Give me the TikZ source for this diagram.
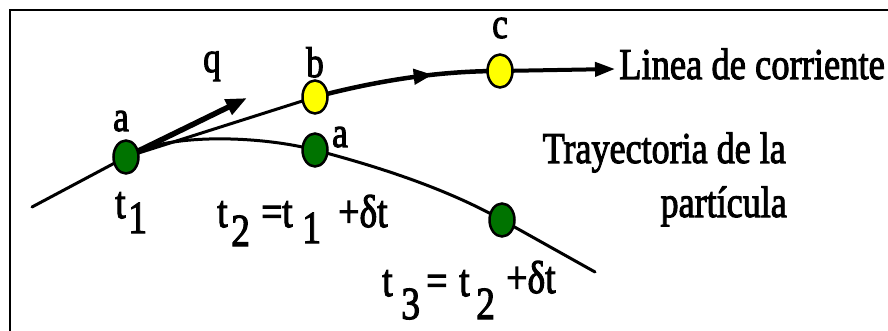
\documentclass[tikz,border=0pt]{standalone}
\usepackage{fontspec}
\setmainfont[FakeBold=2.5]{Liberation Serif}
\newfontfamily\lblfont[FakeBold=2.5]{Liberation Serif}
\usepackage{graphicx}
\usetikzlibrary{arrows.meta,decorations.markings,shapes.geometric}
\pgfdeclarelayer{bg}
\pgfsetlayers{bg,main}
\newcommand{\sq}[1]{\scalebox{0.82}[1]{#1}}
\newcommand{\piece}[2]{\makebox[#1][l]{\sq{#2}}}
\definecolor{ptgreen}{RGB}{0,115,0}
\definecolor{ptyellow}{RGB}{255,255,0}
\tikzset{
  dot/.style={ellipse, draw=black, line width=2.5pt, minimum width=25pt, minimum height=33pt, inner sep=0pt},
  greenpt/.style={dot, fill=ptgreen},
  yellowpt/.style={dot, fill=ptyellow},
  lbl/.style={inner sep=0pt, font=\lblfont\fontsize{43}{50}\selectfont},
  txt/.style={inner sep=0pt, font=\lblfont\fontsize{44}{52}\selectfont},
  frm/.style={inner sep=0pt, font=\lblfont\fontsize{46}{54}\selectfont},
  traj/.style={line width=3pt, line cap=round},
  stream/.style={line width=3pt},
  head/.style={-{Triangle[length=20pt,width=14pt]}}
}
\begin{document}
\begin{tikzpicture}[x=1pt,y=-1pt]
\useasboundingbox (0,0) rectangle (888,331);
\begin{pgfonlayer}{bg}
\fill[white] (0,0) rectangle (888,331);
\end{pgfonlayer}
\draw[line width=2.2pt] (10,331) -- (10,10) -- (888,10);
% points
\node[greenpt] (a1) at (126,157) {};
\node[yellowpt] (b) at (315,97) {};
\node[greenpt] (a2) at (315,150) {};
\node[yellowpt] (c) at (500,71) {};
\node[greenpt] (a3) at (502,220) {};
\coordinate (s) at (32,207);
\coordinate (e) at (595,272);
\coordinate (qtip) at (247,98);
\coordinate (ctip) at (615,69);
\begin{pgfonlayer}{bg}
\draw[traj] (s) -- (a1.center) .. controls (166,132) and (262,136) .. (a2.center)
  .. controls (368,164) and (442,186) .. (a3.center) -- (e);
\draw[stream] (a1.center) -- (b.center);
\draw[stream, line width=4.5pt, postaction={decorate},
  decoration={markings, mark=at position 0.64 with {\arrow{Triangle[length=19pt,width=15pt]}}}]
  (b.center) .. controls (380,80) and (440,71) .. (c.center);
\draw[stream, line width=4pt, head] (c.center) -- (ctip);
\draw[line width=5.5pt, -{Triangle[length=21pt,width=16pt]}] (a1.center) -- (qtip);
\end{pgfonlayer}
% labels
\node[lbl, anchor=base] (la1) at (121,131) {\sq{a}};
\node[lbl, anchor=base] (lb) at (315,77) {\sq{b}};
\node[lbl, anchor=base] (lq) at (212,72) {\sq{q}};
\node[lbl, anchor=base] (lc) at (500,38) {\sq{c}};
\node[lbl, anchor=base] (la2) at (340,147) {\sq{a}};
\node[frm, anchor=base west] (lt1) at (115,218) {\piece{13pt}{t}\sq{\raisebox{-15pt}{1}}};
\node[frm, anchor=base west] (lt2) at (217,227) {\piece{14pt}{t}\piece{30pt}{\raisebox{-19pt}{2}}\piece{21pt}{=}\piece{20pt}{t}\piece{36pt}{\raisebox{-16pt}{1}}\sq{+δt}};
\node[frm, anchor=base west] (lt3) at (382,296) {\piece{19pt}{t}\piece{25pt}{\raisebox{-23pt}{3}}\piece{33pt}{=}\piece{17pt}{t}\piece{30pt}{\raisebox{-23pt}{2}}\sq{\raisebox{3pt}{+δt}}};
\node[txt, anchor=base west] (lline) at (619,79) {\scalebox{0.83}[1]{Linea de corriente}};
\node[txt, anchor=base east] (ltr1) at (786,163) {\sq{Trayectoria de la}};
\node[txt, anchor=base east] (ltr2) at (787,217) {\sq{partícula}};
\end{tikzpicture}
\end{document}
